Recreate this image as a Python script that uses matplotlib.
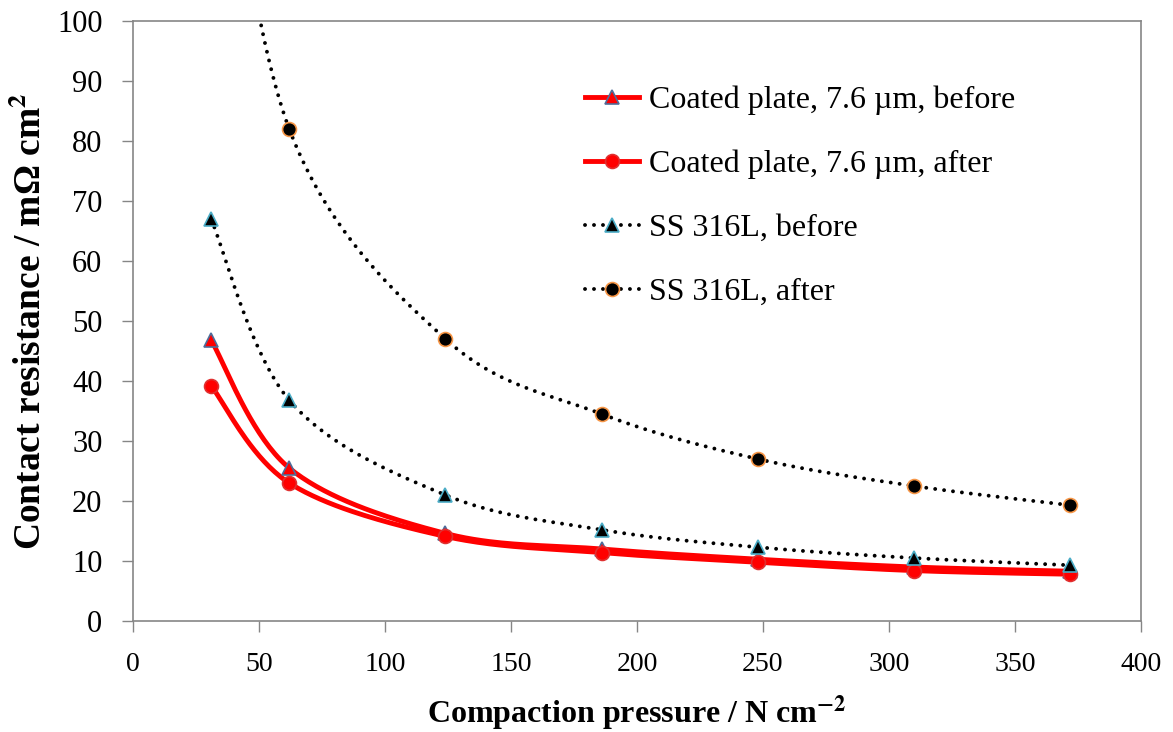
import numpy as np
import matplotlib.pyplot as plt

# compaction pressure, N cm-2
pressure = [31, 62, 124, 186, 248, 310, 372]

# contact resistance, mOhm cm2
coated_before = [46.8, 25.5, 14.6, 12.0, 10.3, 9.0, 8.3]
coated_after = [39.2, 23.0, 14.1, 11.4, 9.8, 8.4, 7.8]
ss_before = [67.0, 36.8, 21.0, 15.2, 12.3, 10.5, 9.3]
ss_after = [150.0, 82.0, 47.0, 34.5, 27.0, 22.5, 19.3]

labels = ['Coated plate, 7.6 \u00b5m, before', 'Coated plate, 7.6 \u00b5m, after',
          'SS 316L, before', 'SS 316L, after']

plt.rcParams['font.family'] = ['Liberation Serif', 'DejaVu Serif']
plt.rcParams['mathtext.fontset'] = 'stix'


def smooth(x, y, n=40):
    # excel-like smoothed line (catmull-rom bezier between the points)
    x = np.asarray(x, float)
    y = np.asarray(y, float)
    px = np.concatenate([[x[0]], x, [x[-1]]])
    py = np.concatenate([[y[0]], y, [y[-1]]])
    xs, ys = [], []
    t = np.linspace(0, 1, n)
    for i in range(1, len(px) - 2):
        p0 = np.array([px[i], py[i]])
        p3 = np.array([px[i + 1], py[i + 1]])
        p1 = p0 + (np.array([px[i + 1], py[i + 1]]) - np.array([px[i - 1], py[i - 1]])) / 6
        p2 = p3 - (np.array([px[i + 2], py[i + 2]]) - np.array([px[i], py[i]])) / 6
        b = ((1 - t) ** 3)[:, None] * p0 + (3 * (1 - t) ** 2 * t)[:, None] * p1 \
            + (3 * (1 - t) * t ** 2)[:, None] * p2 + (t ** 3)[:, None] * p3
        xs.extend(b[:, 0])
        ys.extend(b[:, 1])
    return xs, ys


fig = plt.figure(figsize=(11.73, 7.32), dpi=100)
ax = fig.add_axes([0.1134, 0.1516, 0.8593, 0.8197])

series = [
    (coated_before, dict(color='red', lw=3.5, ls='-'), dict(marker='^', mfc='red', mec='#4F6D9A', ms=10)),
    (coated_after, dict(color='red', lw=3.5, ls='-'), dict(marker='o', mfc='red', mec='#E03030', ms=10)),
    (ss_before, dict(color='black', lw=2.8, ls=(0, (0.01, 2.3)), dash_capstyle='round'),
     dict(marker='^', mfc='black', mec='#4BACC6', ms=10)),
    (ss_after, dict(color='black', lw=2.8, ls=(0, (0.01, 2.3)), dash_capstyle='round'),
     dict(marker='o', mfc='black', mec='#F79646', ms=10)),
]

handles = []
for (vals, lstyle, mstyle), lab in zip(series, labels):
    sx, sy = smooth(pressure, vals)
    ax.plot(sx, sy, **lstyle, zorder=2)
    ax.plot(pressure, vals, ls='none', mew=1.2, zorder=3, **mstyle)
    h, = ax.plot([], [], **lstyle, **mstyle, mew=1.2)
    handles.append(h)

ax.set_xlim(0, 400)
ax.set_ylim(0, 100)
ax.set_xticks(np.arange(0, 401, 50))
ax.set_yticks(np.arange(0, 101, 10))
ax.tick_params(direction='out', length=8, width=1, color='#868686')
ax.tick_params(axis='x', labelsize=20, pad=14)
ax.tick_params(axis='y', labelsize=22, pad=14)
for s in ax.spines.values():
    s.set_color('#868686')
    s.set_linewidth(1.2)

ax.set_xlabel('Compaction pressure / N cm$^{\\mathbf{-2}}$', fontsize=23, fontweight='bold', labelpad=12)
ax.set_ylabel('Contact resistance / m\u03a9 cm$^{\\mathbf{2}}$', fontsize=27, fontweight='bold', labelpad=6)

fig.legend(handles, labels, loc='upper left', bbox_to_anchor=(0.474, 0.922),
           frameon=False, fontsize=23, handlelength=1.7, handletextpad=0.3,
           labelspacing=1.08)

fig.savefig('out.png', dpi=100)
